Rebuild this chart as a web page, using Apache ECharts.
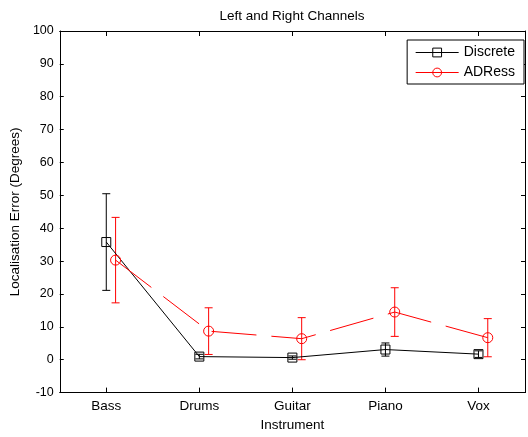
<!DOCTYPE html>
<html>
<head>
<meta charset="utf-8">
<script src="https://cdn.jsdelivr.net/npm/echarts@6/dist/echarts.min.js"></script>
<style>
  html, body { margin: 0; padding: 0; background: #fff; }
  #chart { width: 528px; height: 437px; }
</style>
</head>
<body>
<div id="chart"></div>
<script>
// Instruments along the x axis
const instruments = ['Bass', 'Drums', 'Guitar', 'Piano', 'Vox'];

// Mean localisation error (degrees) and error-bar half widths
const discreteMean = [35.8, 0.95, 0.65, 3.1, 1.7];
const discreteErr  = [14.7, 0.7, 0.5, 2.0, 1.0];
const adressMean   = [30.3, 8.7, 6.4, 14.5, 6.7];
const adressErr    = [13.0, 7.1, 6.4, 7.4, 5.8];

// ADRess points are nudged right so the error bars don't overlap
const adressShift = 0.1;

const yTicks = { min: -10, max: 100, step: 10 };

const FONT = 'Liberation Sans, Arial, sans-serif';

const discretePts = instruments.map((_, i) => [i + 1, discreteMean[i]]);
const adressPts = instruments.map((_, i) => [i + 1 + adressShift, adressMean[i]]);
const discreteBars = instruments.map((_, i) => [i + 1, discreteMean[i] - discreteErr[i], discreteMean[i] + discreteErr[i]]);
const adressBars = instruments.map((_, i) => [i + 1 + adressShift, adressMean[i] - adressErr[i], adressMean[i] + adressErr[i]]);

function errorBarRenderer(color) {
  return function (params, api) {
    const x = api.value(0);
    const lo = api.coord([x, api.value(1)]);
    const hi = api.coord([x, api.value(2)]);
    const cap = 4;
    const style = { stroke: color, lineWidth: 1 };
    return {
      type: 'group',
      children: [
        { type: 'line', shape: { x1: lo[0], y1: lo[1], x2: hi[0], y2: hi[1] }, style },
        { type: 'line', shape: { x1: lo[0] - cap, y1: lo[1], x2: lo[0] + cap, y2: lo[1] }, style },
        { type: 'line', shape: { x1: hi[0] - cap, y1: hi[1], x2: hi[0] + cap, y2: hi[1] }, style }
      ]
    };
  };
}

const chart = echarts.init(document.getElementById('chart'), null, { renderer: 'canvas' });

const axisLine = { show: true, onZero: false, lineStyle: { color: '#000', width: 1 } };

chart.setOption({
  animation: false,
  backgroundColor: '#fff',
  textStyle: { fontFamily: FONT },
  title: {
    text: 'Left and Right Channels',
    left: 292,
    textAlign: 'center',
    top: 9.5,
    padding: 0,
    textStyle: { fontFamily: FONT, fontSize: 13.5, fontWeight: 'normal', color: '#000' }
  },
  legend: {
    orient: 'vertical',
    right: 4,
    top: 40,
    backgroundColor: '#fff',
    borderColor: '#000',
    borderWidth: 1,
    borderRadius: 0,
    padding: [5.5, 9, 4.5, 8],
    itemGap: 6,
    itemWidth: 43,
    itemHeight: 11,
    itemStyle: { borderWidth: 1 },
    lineStyle: { width: 1 },
    textStyle: { fontFamily: FONT, fontSize: 14, color: '#000' },
    data: ['Discrete', 'ADRess']
  },
  grid: { left: 59, right: 3, top: 31, bottom: 37 },
  xAxis: [
    {
      type: 'category',
      data: instruments,
      boundaryGap: true,
      axisLine,
      axisTick: { show: true, inside: true, alignWithLabel: true, length: 5, lineStyle: { color: '#000' } },
      axisLabel: { color: '#000', fontSize: 13.5, fontFamily: FONT, margin: 6.5 },
      splitLine: { show: false },
      name: 'Instrument',
      nameLocation: 'middle',
      nameGap: 22,
      nameTextStyle: { color: '#000', fontSize: 13.5, fontFamily: FONT }
    },
    {
      type: 'value',
      min: 0.5,
      max: 5.5,
      show: false
    },
    {
      type: 'category',
      data: instruments,
      position: 'top',
      boundaryGap: true,
      axisLine,
      axisTick: { show: true, inside: true, alignWithLabel: true, length: 5, lineStyle: { color: '#000' } },
      axisLabel: { show: false },
      splitLine: { show: false }
    }
  ],
  yAxis: [
    {
      type: 'value',
      min: yTicks.min,
      max: yTicks.max,
      interval: yTicks.step,
      axisLine,
      axisTick: { show: true, inside: true, length: 4, lineStyle: { color: '#000' } },
      axisLabel: { color: '#000', fontSize: 12.5, fontFamily: FONT, margin: 6 },
      splitLine: { show: false },
      name: 'Localisation Error (Degrees)',
      nameLocation: 'middle',
      nameGap: 35,
      nameTextStyle: { color: '#000', fontSize: 13.5, fontFamily: FONT }
    },
    {
      type: 'value',
      min: yTicks.min,
      max: yTicks.max,
      interval: yTicks.step,
      position: 'right',
      axisLine,
      axisTick: { show: true, inside: true, length: 4, lineStyle: { color: '#000' } },
      axisLabel: { show: false },
      splitLine: { show: false }
    }
  ],
  series: [
    {
      name: 'Discrete bars',
      type: 'custom',
      xAxisIndex: 1,
      yAxisIndex: 0,
      data: discreteBars,
      renderItem: errorBarRenderer('#000'),
      z: 2
    },
    {
      name: 'ADRess bars',
      type: 'custom',
      xAxisIndex: 1,
      yAxisIndex: 0,
      data: adressBars,
      renderItem: errorBarRenderer('#ff0000'),
      z: 2
    },
    {
      name: 'Discrete',
      type: 'line',
      xAxisIndex: 1,
      yAxisIndex: 0,
      data: discretePts,
      symbol: 'rect',
      symbolSize: 9,
      itemStyle: { color: 'rgba(0,0,0,0)', borderColor: '#000', borderWidth: 1 },
      lineStyle: { color: '#000', width: 1 },
      z: 3
    },
    {
      name: 'ADRess',
      type: 'line',
      xAxisIndex: 1,
      yAxisIndex: 0,
      data: adressPts,
      symbol: 'circle',
      symbolSize: 10,
      itemStyle: { color: 'rgba(0,0,0,0)', borderColor: '#ff0000', borderWidth: 1 },
      lineStyle: { color: '#ff0000', width: 1, type: [45, 15] },
      z: 4
    }
  ]
});
</script>
</body>
</html>
